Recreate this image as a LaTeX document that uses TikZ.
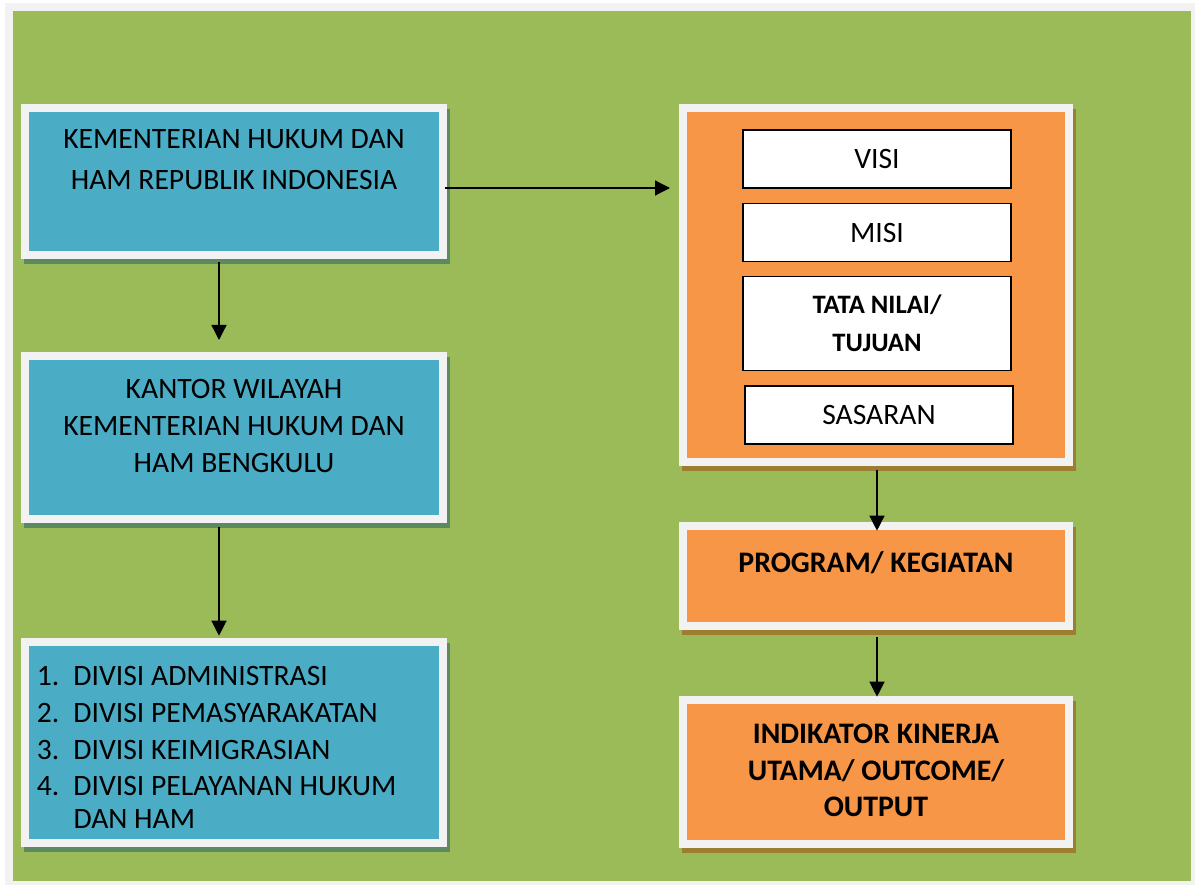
\documentclass[tikz,border=0pt]{standalone}
\usepackage{fontspec}
\setmainfont{Carlito}
\usepackage{tikz}
\usetikzlibrary{positioning}
\usetikzlibrary{arrows.meta}
\definecolor{bggreen}{HTML}{9BBB59}
\definecolor{boxblue}{HTML}{4BACC6}
\definecolor{boxorange}{HTML}{F79646}
\definecolor{framegrey}{HTML}{F2F2F2}
\definecolor{shadowblue}{RGB}{94,137,96}
\definecolor{shadoworange}{RGB}{157,126,48}
\tikzset{x=0.5pt, y=0.5pt, % one unit = one pixel of the original picture
         boxframe/.style={ % white frame with a hard shadow below right
           draw=framegrey, line width=4pt, inner sep=0pt,
           preaction={fill=#1, draw=#1, line width=4pt,
             transform canvas={xshift=1.5pt, yshift=-2.5pt}}},
         bluebox/.style={boxframe=shadowblue, fill=boxblue, minimum width=209pt},
         orangebox/.style={boxframe=shadoworange, fill=boxorange, minimum width=193pt},
         itembox/.style={ % white boxes inside the orange frame
           draw=black, line width=0.65pt, fill=white,
           minimum width=134pt, minimum height=29pt,
           align=center, font=\fontsize{14.8}{18.5}\selectfont},
         boxtext/.style={anchor=north, inner sep=0pt, align=center,
           font=\fontsize{14.8}{18.5}\selectfont},
         arrow/.style={->, >={Triangle[length=7.5pt, width=7.5pt]}, line width=0.65pt}}
\begin{document}
\begin{tikzpicture}
    \useasboundingbox[fill=white] (0,0) rectangle (1195,885);
    \fill[framegrey] (5,0) rectangle (1195,882);
    \fill[bggreen] (13,4) rectangle (1191,874);

    % left column
    \node[bluebox, minimum height=73.5pt] (kemen) at (234,703.5) {};
    \node[bluebox, minimum height=81.5pt, below=46.5pt of kemen] (kanwil) {};
    \node[bluebox, minimum height=100.75pt, below=57.35pt of kanwil] (divisi) {};

    % right column
    \node[orangebox, minimum height=177pt, anchor=north west] (renstra)
        at ([xshift=116pt]kemen.north east) {};
    \node[orangebox, minimum height=50pt, below=27.85pt of renstra] (program) {};
    \node[orangebox, minimum height=72pt, below=33pt of program] (iku) {};

    \node[itembox] (visi) at (877,726) {VISI};
    \node[itembox, below=7.25pt of visi] (misi) {MISI};
    \node[itembox, minimum height=47pt, below=6.6pt of misi, font=\fontsize{13.3}{19}\selectfont\bfseries]
        (nilai) {TATA NILAI/\\TUJUAN};
    \node[itembox, below=7.25pt of nilai, xshift=1pt] (sasaran) {SASARAN};

    % texts
    \node[boxtext, font=\fontsize{14.8}{20.5}\selectfont] (t1) at ([yshift=-12.6pt]kemen.north)
        {KEMENTERIAN HUKUM DAN\\HAM REPUBLIK INDONESIA};
    \node[boxtext] (t2) at ([yshift=-13.25pt]kanwil.north)
        {KANTOR WILAYAH\\KEMENTERIAN HUKUM DAN\\HAM BENGKULU};
    \node[boxtext, anchor=north west, align=left, font=\fontsize{14.8}{16.3}\selectfont] (t3)
        at ([xshift=7.75pt, yshift=-14.25pt]divisi.north west)
        {\makebox[18.3pt][l]{1.}DIVISI ADMINISTRASI\\[2pt]
         \makebox[18.3pt][l]{2.}DIVISI PEMASYARAKATAN\\[2pt]
         \makebox[18.3pt][l]{3.}DIVISI KEIMIGRASIAN\\[2pt]
         \makebox[18.3pt][l]{4.}DIVISI PELAYANAN HUKUM\\
         \hspace*{18.3pt}DAN HAM};
    \node[boxtext, font=\fontsize{14.9}{18.5}\selectfont\bfseries] (t4)
        at ([yshift=-14.5pt]program.north) {PROGRAM/ KEGIATAN};
    \node[boxtext, font=\fontsize{14.9}{18.25}\selectfont\bfseries] (t5)
        at ([yshift=-14pt]iku.north) {INDIKATOR KINERJA\\UTAMA/ OUTCOME/\\OUTPUT};

    % connectors
    \draw[arrow, shorten <=-1pt, shorten >=4.5pt]
        ([yshift=-3.25pt]kemen.east) -- ([yshift=-3.25pt]kemen.east -| renstra.west);
    \draw[arrow, shorten <=1.5pt, shorten >=6pt]
        ([xshift=-7.5pt]kemen.south) -- ([xshift=-7.5pt]kanwil.north);
    \draw[arrow, shorten <=2pt, shorten >=1pt]
        ([xshift=-7.5pt]kanwil.south) -- ([xshift=-7.5pt]divisi.north);
    \draw[arrow, shorten <=2pt, shorten >=-4.5pt]
        ([xshift=0.5pt]renstra.south) -- ([xshift=0.5pt]program.north);
    \draw[arrow, shorten <=3.5pt, shorten >=-0.5pt]
        ([xshift=0.5pt]program.south) -- ([xshift=0.5pt]iku.north);
\end{tikzpicture}
\end{document}
